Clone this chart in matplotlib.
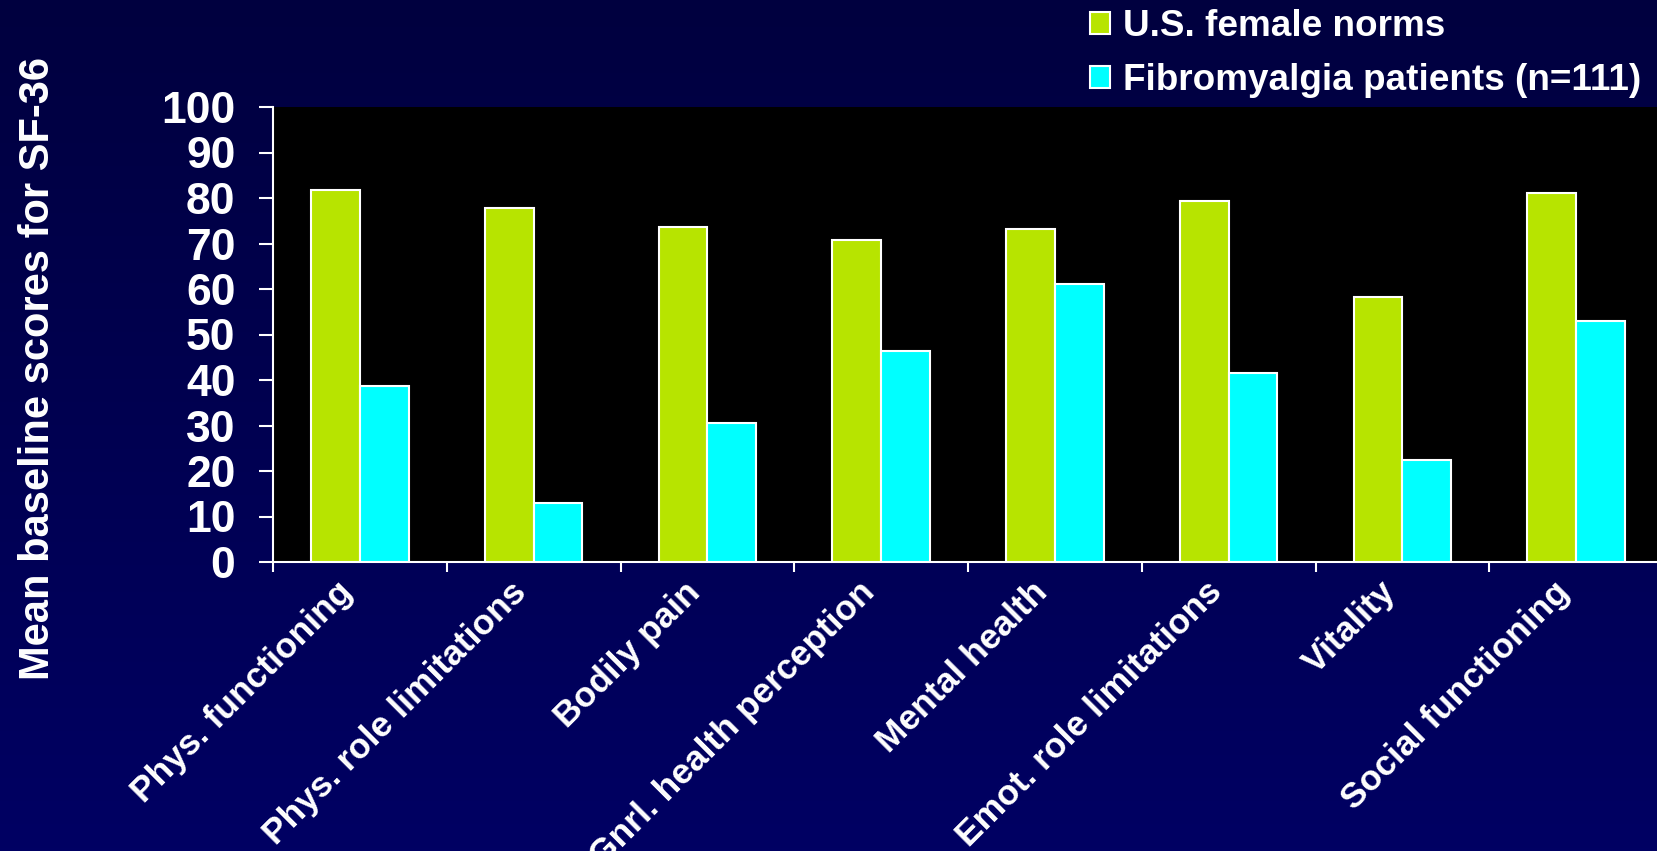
import numpy as np
import matplotlib
matplotlib.use("Agg")
import matplotlib.pyplot as plt
from matplotlib.colors import LinearSegmentedColormap
from matplotlib.transforms import ScaledTranslation

categories = ["Phys. functioning", "Phys. role limitations", "Bodily pain",
              "Gnrl. health perception", "Mental health", "Emot. role limitations",
              "Vitality", "Social functioning"]
series_names = ["U.S. female norms", "Fibromyalgia patients (n=111)"]
us_norms = [81.7, 77.8, 73.6, 70.8, 73.2, 79.3, 58.3, 81.2]
fibro = [38.6, 12.9, 30.5, 46.3, 61.2, 41.5, 22.4, 53.0]
yticks = [0, 10, 20, 30, 40, 50, 60, 70, 80, 90, 100]
ylabel = "Mean baseline scores for SF-36"

plt.rcParams['font.family'] = ['Liberation Sans', 'DejaVu Sans']
plt.rcParams['font.weight'] = 'bold'

W, H = 1657, 851
fig = plt.figure(figsize=(W/100, H/100), dpi=100)

# gradient background
bg = fig.add_axes([0, 0, 1, 1], zorder=-10)
cmap = LinearSegmentedColormap.from_list("bg", ["#00003f", "#000063"])
grad = np.linspace(0, 1, 256).reshape(-1, 1)
bg.imshow(grad, aspect='auto', cmap=cmap, extent=[0, 1, 0, 1], origin='upper')
bg.set_axis_off()

left = 273 / W
right_px = 1663
bottom = 1 - 562 / H
top = 1 - 107 / H
ax = fig.add_axes([left, bottom, (right_px - 273) / W, top - bottom])
ax.set_facecolor('black')

x = np.arange(len(categories))
bw = 0.28
green = "#b7e400"
cyan = "#00ffff"
ax.bar(x - bw/2, us_norms, width=bw, color=green, edgecolor='white', linewidth=1.5,
       label=series_names[0], zorder=3)
ax.bar(x + bw/2, fibro, width=bw, color=cyan, edgecolor='white', linewidth=1.5,
       label=series_names[1], zorder=3)

ax.set_xlim(-0.5, len(categories) - 0.5)
ax.set_ylim(0, 100)
ax.set_yticks(yticks)
ax.set_yticklabels([str(v) for v in yticks], fontsize=32, color='white', fontweight='bold')
ax.tick_params(axis='y', direction='out', length=10, width=1.5, color='white', pad=17)

ax.set_xticks(np.arange(-0.5, len(categories), 1.0))
ax.set_xticklabels([])
ax.tick_params(axis='x', which='major', direction='out', length=7, width=1.5, color='white')
ax.set_xticks(x, minor=True)
ax.set_xticklabels(categories, minor=True, rotation=45, ha='right', va='center',
                   rotation_mode='anchor', fontsize=25.5, color='white', fontweight='bold')
ax.tick_params(axis='x', which='minor', length=0, pad=18)
shift = ScaledTranslation(-12 / 100, 0, fig.dpi_scale_trans)
for lbl in ax.get_xticklabels(minor=True):
    lbl.set_transform(lbl.get_transform() + shift)

for s in ['top', 'right']:
    ax.spines[s].set_visible(False)
for s in ['left', 'bottom']:
    ax.spines[s].set_color('white')
    ax.spines[s].set_linewidth(1.5)

fig.text(38 / W, 1 - 369 / H, ylabel, rotation=90, ha='center', va='center',
         fontsize=30, color='white', fontweight='bold')

leg = fig.legend(loc='upper left', bbox_to_anchor=(1090 / W, 1 - 9 / H), frameon=False,
                 fontsize=26.6, handlelength=0.55, handleheight=0.55, handletextpad=0.35,
                 labelspacing=0.52, borderpad=0, borderaxespad=0)
for t in leg.get_texts():
    t.set_color('white')
    t.set_fontweight('bold')

fig.savefig("out.png", dpi=100, facecolor=fig.get_facecolor())
